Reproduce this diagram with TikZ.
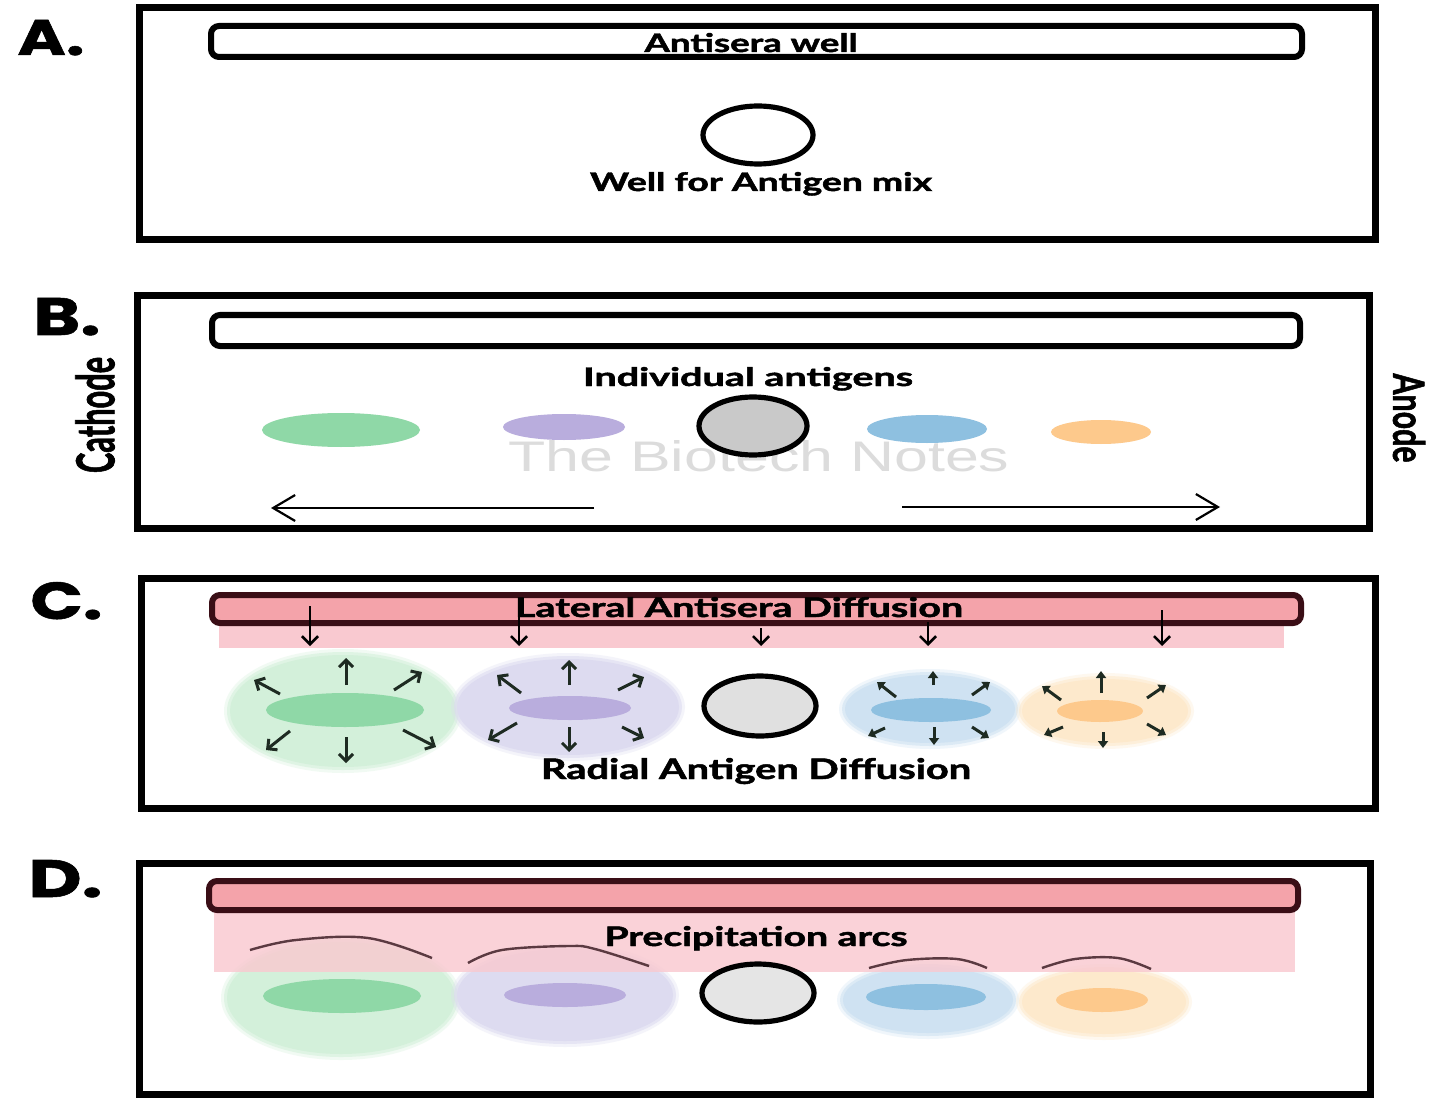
\documentclass[tikz,border=0pt]{standalone}
\usepackage{fontspec}
\usepackage{graphicx}
\usetikzlibrary{arrows.meta,shapes.geometric,calc}
\newfontfamily\latofont[BoldFeatures={FakeBold=1.6}]{Lato}
\newfontfamily\popfont[BoldFeatures={FakeBold=1}]{Poppins}
\newfontfamily\wmfont{Liberation Sans}

\definecolor{wellpink}{HTML}{F4A3AA}
\definecolor{bandpink}{HTML}{F9C9D0}
\definecolor{maroon}{HTML}{3A0E16}
\definecolor{grnin}{HTML}{8FD8A7}
\definecolor{grnhalo}{HTML}{D3F0DA}
\definecolor{purin}{HTML}{B9ADDD}
\definecolor{purhalo}{HTML}{DDDBF0}
\definecolor{bluin}{HTML}{8EC0E0}
\definecolor{bluhalo}{HTML}{CFE2F2}
\definecolor{orain}{HTML}{FDC98C}
\definecolor{orahalo}{HTML}{FDE9CC}
\definecolor{arcbrown}{HTML}{5B3A41}
\definecolor{arrowdark}{HTML}{1E2B22}
\definecolor{wmgray}{HTML}{DCDCDC}

% spot name, x, y, rx, ry, colour  (radii in pixel units of the grid)
\newcommand{\spot}[6]{\node[spot,fill=#6,minimum width=#4pt,minimum height=#5pt] (#1) at (#2,#3) {};}
% soft-edged diffusion halo
\newcommand{\halo}[6]{%
  \node[spot,fill=#6,opacity=.3,minimum width=#4pt+6pt,minimum height=#5pt+6pt] (#1-glow) at (#2,#3) {};
  \node[spot,fill=#6,opacity=.6,minimum width=#4pt+3pt,minimum height=#5pt+3pt] (#1-rim) at (#2,#3) {};
  \node[spot,fill=#6,minimum width=#4pt,minimum height=#5pt] (#1) at (#2,#3) {};}

\begin{document}
\begin{tikzpicture}[x=0.5pt,y=-0.5pt,
  panel/.style={draw=black,line width=3.5pt,rectangle,inner sep=0pt},
  well/.style={draw=black,line width=3pt,rounded corners=4pt,rectangle,inner sep=0pt,fill=white},
  pinkwell/.style={well,draw=maroon,fill=wellpink},
  spot/.style={ellipse,inner sep=0pt,draw=none},
  cwell/.style={ellipse,draw=black,line width=2.6pt,inner sep=0pt},
  lbl/.style={inner sep=0pt,anchor=base,font=\latofont\bfseries},
  letter/.style={inner sep=0pt,anchor=base west,font=\popfont\bfseries},
  rad/.style={draw=arrowdark,line width=1.5pt,-{Straight Barb[length=3.5pt,width=7pt]}},
  radsm/.style={draw=arrowdark,line width=1.5pt,-{Triangle[length=3.5pt,width=5pt]}},
  downarr/.style={line width=1.3pt,-{Straight Barb[length=4pt,width=8pt]}},
  field/.style={line width=1.1pt,-{Straight Barb[length=11pt,width=13pt]}},
  precarc/.style={draw=arcbrown,line width=1.2pt}
]
\useasboundingbox (0,0) rectangle (1443,1101);
\fill[white] (0,0) rectangle (1443,1101);

% ---------------- A ----------------
\node[letter] (la) at (17,55) {\resizebox{33.5pt}{17.5pt}{A.}};
\node[panel,minimum width=618pt,minimum height=116pt] (boxA) at (757,124) {};
\node[well,minimum width=545.5pt,minimum height=15.5pt] (wellA) at (756.5,41.5) {};
\node[lbl] (tA1) at (751,52) {\resizebox{106.5pt}{9.5pt}{Antisera well}};
\node[cwell,fill=white,minimum width=55pt,minimum height=29pt] (agA) at (758,135) {};
\node[lbl] (tA2) at (761,191) {\resizebox{171pt}{9.5pt}{Well for Antigen mix}};

% ---------------- B ----------------
\node[letter] (lb) at (33,335) {\resizebox{33.5pt}{18.5pt}{B.}};
\node[panel,minimum width=616pt,minimum height=116pt] (boxB) at (753,412) {};
\node[well,minimum width=544pt,minimum height=15.5pt] (wellB) at (756,330.5) {};
\node[inner sep=0pt,anchor=base,text=wmgray,font=\wmfont] (wm) at (759,471) {\resizebox{250.5pt}{15.5pt}{The Biotech Notes}};
\spot{bG}{341}{430}{79}{17}{grnin}
\spot{bP}{564}{427}{61}{13}{purin}
\spot{bB}{927}{429}{60}{14}{bluin}
\spot{bO}{1101}{432}{50}{12}{orain}
\node[cwell,fill=black!21,minimum width=54pt,minimum height=29pt] (agB) at (753,426) {};
\node[lbl] (tB1) at (748,386) {\resizebox{165pt}{9.5pt}{Individual antigens}};
\node[inner sep=0pt,rotate=90,font=\latofont\bfseries] (cath) at (95,415) {\resizebox{58pt}{19.5pt}{Cathode}};
\node[inner sep=0pt,rotate=-90,font=\latofont\bfseries] (anod) at (1409,418) {\resizebox{44.5pt}{16pt}{Anode}};
\coordinate (Ls) at (594,508);
\coordinate (Le) at (271,508);
\coordinate (Rs) at (902,507);
\coordinate (Re) at (1220,507);
\draw[field] (Ls) -- (Le);
\draw[field] (Rs) -- (Re);

% ---------------- C ----------------
\node[letter] (lc) at (30,619) {\resizebox{36pt}{18.5pt}{C.}};
\node[panel,minimum width=617pt,minimum height=115pt] (boxC) at (758,693) {};
\fill[bandpink] (219,623) rectangle (1284,648);
\node[pinkwell,minimum width=544.5pt,minimum height=14pt] (wellC) at (756.5,609) {};
\node[lbl] (tC1) at (739,617) {\resizebox{224pt}{10pt}{Lateral Antisera Diffusion}};
\halo{cGh}{343}{711}{113}{56}{grnhalo}
\halo{cPh}{568}{707}{111}{48}{purhalo}
\halo{cBh}{930}{709}{85}{34}{bluhalo}
\halo{cOh}{1105}{711}{83}{32}{orahalo}
\spot{cG}{345}{710}{79}{17}{grnin}
\spot{cP}{570}{708}{61}{12}{purin}
\spot{cB}{931}{710}{60}{12}{bluin}
\spot{cO}{1100}{711}{43}{11}{orain}
\node[cwell,fill=black!12,minimum width=56pt,minimum height=30pt] (agC) at (760,706) {};
\node[lbl] (tC2) at (756,779) {\resizebox{215pt}{10.5pt}{Radial Antigen Diffusion}};
% antisera moving down from the trough
\foreach \x/\y in {310/606,519/602,761/628,928/622,1162/610}
  \draw[downarr] (\x,\y) -- (\x,646);
% antigens spreading out radially
\draw[rad] (346,685) -- (346,658);
\draw[rad] (280,694) -- (254,680);
\draw[rad] (394,690) -- (422,672);
\draw[rad] (290,731) -- (266,750);
\draw[rad] (346,737) -- (346,763);
\draw[rad] (403,730) -- (436,747);
\draw[rad] (569,685) -- (569,660);
\draw[rad] (521,693) -- (497,675);
\draw[rad] (618,690) -- (644,677);
\draw[rad] (517,723) -- (488,740);
\draw[rad] (569,727) -- (569,752);
\draw[rad] (622,727) -- (644,738);
\draw[radsm] (933,685) -- (933,671);
\draw[radsm] (896,697) -- (877,682);
\draw[radsm] (972,695) -- (990,682);
\draw[radsm] (885,728) -- (868,736);
\draw[radsm] (934,727) -- (934,745);
\draw[radsm] (972,727) -- (989,738);
\draw[radsm] (1101,693) -- (1101,671);
\draw[radsm] (1061,700) -- (1042,686);
\draw[radsm] (1147,698) -- (1166,685);
\draw[radsm] (1063,727) -- (1044,735);
\draw[radsm] (1103,732) -- (1103,748);
\draw[radsm] (1147,724) -- (1166,735);

% ---------------- D ----------------
\node[letter] (ld) at (28,897) {\resizebox{37pt}{18.5pt}{D.}};
\node[panel,minimum width=615.5pt,minimum height=115.5pt] (boxD) at (754.5,978.5) {};
\halo{dGh}{341}{998}{114}{56}{grnhalo}
\halo{dPh}{565}{995}{108}{46}{purhalo}
\halo{dBh}{928}{1000}{85}{33}{bluhalo}
\halo{dOh}{1104}{1002}{82}{32}{orahalo}
\fill[bandpink,opacity=.82] (214,910) rectangle (1295,972);
\draw[precarc] plot[smooth,tension=.6] coordinates {(250,950) (296,940) (368,938) (432,958)};
\draw[precarc] plot[smooth,tension=.6] coordinates {(468,963) (502,950) (569,946) (595,949) (649,966)};
\draw[precarc] plot[smooth,tension=.6] coordinates {(869,968) (907,960) (957,959) (987,968)};
\draw[precarc] plot[smooth,tension=.6] coordinates {(1042,968) (1075,959) (1118,958) (1151,969)};
\spot{dG}{342}{996}{79}{17}{grnin}
\spot{dP}{565}{995}{61}{12}{purin}
\spot{dB}{926}{997}{60}{13}{bluin}
\spot{dO}{1102}{1000}{46}{12}{orain}
\node[cwell,fill=black!10,minimum width=56pt,minimum height=29pt] (agD) at (758,993) {};
\node[pinkwell,minimum width=544.5pt,minimum height=14.5pt] (wellD) at (753.5,895.5) {};
\node[lbl] (tD1) at (756,946) {\resizebox{151.5pt}{10pt}{Precipitation arcs}};
\end{tikzpicture}
\end{document}
